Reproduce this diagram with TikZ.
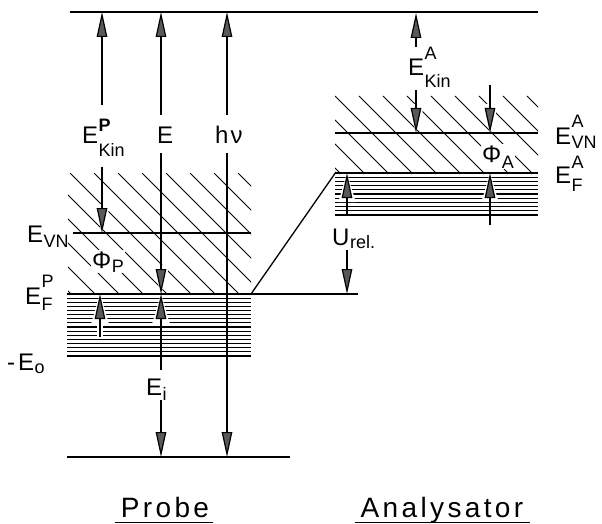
\documentclass[tikz,border=0pt]{standalone}
\usepackage{fontspec}
\setmainfont{Liberation Sans}
\usetikzlibrary{arrows.meta}
\newcommand\bigf{\fontsize{24}{26}\selectfont}
\newcommand\smf{\fontsize{18}{20}\selectfont}
\newcommand\ttlf{\fontsize{28}{30}\selectfont\addfontfeatures{LetterSpace=12}}
% #1 main, #2 sup, #3 sub, #4 raise of sup, #5 drop of sub
\newcommand\lbl[5]{#1\kern0.5pt\rlap{\raisebox{#4}{\smf #2}}\raisebox{-#5}{\smf #3}}
\newcommand\lsub[3]{#1\kern0.5pt\raisebox{-#3}{\smf #2}}
\begin{document}
\begin{tikzpicture}[x=1pt,y=-1pt,
  lvl/.style={line width=1.3pt},
  hatch/.style={line width=0.9pt},
  band/.style={line width=1.1pt},
  arr/.style={line width=1.2pt,-{Triangle[length=25pt,width=10.5pt,fill=black!65]},
     preaction={draw=white,line width=1.2pt,-{Triangle[length=29pt,width=17pt,fill=white,color=white]}}},
  lab/.style={inner sep=0pt,anchor=base west,font=\bigf},
  ttl/.style={inner sep=0pt,anchor=base,font=\ttlf}]
\useasboundingbox (0,0) rectangle (602,524);

% ---- hatching, Probe
\begin{scope}
  \clip (68,173) rectangle (251,294);
  \foreach \k in {-5,...,8} \draw[hatch] (70+24*\k,173) -- ++(130,130);
\end{scope}
% ---- hatching, Analysator
\begin{scope}
  \clip (335,96) rectangle (538,173);
  \foreach \k in {-4,...,9} \draw[hatch] (335+24*\k,96) -- ++(90,90);
\end{scope}
% ---- bands
\foreach \i in {1,...,15} \draw[band] (67,294+4.13*\i) -- (251,294+4.13*\i);
\foreach \i in {1,...,10} \draw[band] (335,173+4.2*\i) -- (538,173+4.2*\i);
\fill[white] (97,300) rectangle (103,337);

% ---- arrows
\draw[arr] (102,105) -- (102,12);
\draw[arr] (102,167) -- (102,233);
\draw[arr] (161,115) -- (161,12);
\draw[arr] (161,153) -- (161,294);
\draw[arr] (227,115) -- (227,12);
\draw[arr] (227,153) -- (227,457);
\draw[arr] (100,337) -- (100,294);
\draw[arr] (161,370) -- (161,294);
\draw[arr] (161,400) -- (161,457);
\draw[arr] (416,47) -- (416,13);
\draw[arr] (416,90) -- (416,133);
\draw[arr] (490,85) -- (490,133);
\draw[arr] (490,225) -- (490,173);
\draw[arr] (347,215) -- (347,173);
\draw[arr] (347,250) -- (347,294);

% ---- levels
\draw[lvl] (70,12) -- (538,12);
\draw[lvl] (73,233) -- (251,233);
\draw[lvl] (67,294) -- (358,294);
\draw[lvl] (67,457) -- (290,457);
\draw[lvl] (251,294) -- (336,172);
\draw[lvl] (335,133) -- (538,133);
\draw[lvl] (335,173) -- (538,173);

% ---- labels
\node[lab] (ekp) at (82,143) {\lbl{E}{\bfseries P}{Kin}{12pt}{13pt}};
\node[lab] (e) at (157,143) {E};
\node[lab] (hv) at (215,143) {h\kern2ptν};
\node[lab] (evn) at (27,242) {\lsub{E}{VN}{5pt}};
\node[lab] (efp) at (25,304) {\lbl{E}{P}{F}{17pt}{6pt}};
\node[lab] (eo) at (7,370) {-\kern3ptE\kern0.5pt\raisebox{-3pt}{\smf o}};
\node[lab,fill=white,inner sep=1pt] (phip) at (91,268) {\lsub{Φ}{P}{4pt}};
\node[lab] (ei) at (146,395) {\lsub{E}{i}{5pt}};
\node[lab] (eka) at (408,76) {\lbl{E}{A}{Kin}{16pt}{12pt}};
\node[lab] (evna) at (555,144) {\lbl{E}{A}{VN}{17pt}{4pt}};
\node[lab] (efa) at (555,183) {\lbl{E}{A}{F}{15pt}{8pt}};
\node[lab] (urel) at (332,245) {\lsub{U}{rel.}{3pt}};
\node[lab,fill=white,inner sep=1pt] (phia) at (481,162) {\lsub{Φ}{A}{6pt}};

\node[ttl] (probe) at (165,517) {Probe};
\node[ttl] (ana) at (442,517) {Analysator};
\draw[line width=0.9pt] (115,522) -- (213,522);
\draw[line width=0.9pt] (355,522) -- (530,522);
\end{tikzpicture}
\end{document}
